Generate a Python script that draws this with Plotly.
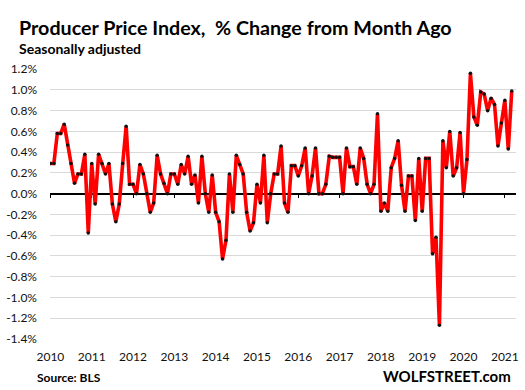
import plotly.graph_objects as go

# ---- data ----
ppi_change = [
    0.29, 0.29, 0.58, 0.58, 0.67, 0.47, 0.29, 0.10, 0.19, 0.19, 0.38, -0.38,
    0.29, -0.10, 0.38, 0.29, 0.19, 0.29, -0.10, -0.27, -0.10, 0.29, 0.65, 0.09,
    0.09, 0.00, 0.28, 0.19, 0.00, -0.18, -0.09, 0.37, 0.19, 0.10,
    0.00, 0.19, 0.19, 0.09, 0.28, 0.19, 0.36, 0.09, 0.18, -0.09, 0.36, 0.00,
    -0.18, 0.18, -0.18, -0.27, -0.63, -0.45, 0.19, -0.18, 0.37, 0.28, 0.19, -0.18,
    -0.36, -0.28, 0.09, -0.09, 0.37, -0.28, 0.00, 0.19, 0.19, 0.46,
    -0.09, -0.18, 0.27, 0.27, 0.17, 0.27, 0.44, 0.00, 0.17, 0.44, 0.00, 0.00,
    0.09, 0.36, 0.35, 0.35, 0.35, 0.00, 0.44, 0.26, 0.26, 0.09, 0.44, 0.34,
    0.09, 0.00, 0.09, 0.77, -0.17, -0.09, -0.17, 0.25, 0.34, 0.51, 0.08,
    -0.17, 0.17, 0.17, -0.26, 0.34, -0.17, 0.34, 0.34, -0.58, -0.42, -1.27, 0.51,
    0.25, 0.60, 0.17, 0.25, 0.59, 0.00, 0.33, 1.16, 0.74, 0.66, 0.98, 0.96,
    0.80, 0.92, 0.86, 0.46, 0.68, 0.90, 0.43, 0.99,
]
start_year = 2010
year_ticks = list(range(2010, 2022))
year_labels = [str(y) for y in year_ticks]
y_ticks = [1.2, 1.0, 0.8, 0.6, 0.4, 0.2, 0.0, -0.2, -0.4, -0.6, -0.8, -1.0, -1.2, -1.4]
y_labels = ["1.2%", "1.0%", "0.8%", "0.6%", "0.4%", "0.2%", "0.0%", "-0.2%", "-0.4%",
            "-0.6%", "-0.8%", "-1.0%", "-1.2%", "-1.4%"]

months = [start_year + i / 12 for i in range(len(ppi_change))]

W, H = 525, 390
L, R, T, B = 46, 6, 69, 51
PW, PH = W - L - R, H - T - B
YMIN, YMAX = -1.402, 1.202
XMIN, XMAX = 2009.99, 2021.27


def px(x):
    return (x - L) / PW


def py(y):
    return (H - B - y) / PH


FONT = "Lato"

fig = go.Figure()
fig.add_trace(go.Scatter(
    x=months, y=ppi_change, mode="lines+markers",
    line=dict(color="#ff0000", width=3.6),
    marker=dict(color="#111111", size=3.5),
    showlegend=False, hoverinfo="skip",
))
fig.add_trace(go.Scatter(
    x=[months[0]], y=[0], xaxis="x2", mode="markers",
    marker=dict(opacity=0), showlegend=False, hoverinfo="skip",
))

fig.update_layout(
    width=W, height=H,
    margin=dict(l=L, r=R, t=T, b=B, pad=0),
    paper_bgcolor="white", plot_bgcolor="white",
    font=dict(family=FONT, color="#1a1a1a"),
    xaxis=dict(
        range=[XMIN, XMAX], tickvals=year_ticks, ticktext=year_labels,
        showgrid=False, zeroline=False, showline=False, ticks="",
        tickfont=dict(size=12, color="#111111"), ticklabelstandoff=9,
    ),
    xaxis2=dict(
        range=[XMIN, XMAX], overlaying="x", anchor="free",
        position=(0 - YMIN) / (YMAX - YMIN), side="bottom",
        tickvals=year_ticks, showticklabels=False,
        showgrid=False, zeroline=False, showline=True, linecolor="black",
        linewidth=1.5, ticks="outside", ticklen=4, tickwidth=1.3,
        tickcolor="black", layer="below traces",
    ),
    yaxis=dict(
        range=[YMIN, YMAX], tickvals=y_ticks, ticktext=y_labels,
        showgrid=True, gridcolor="#d9d9d9", gridwidth=1.2,
        zeroline=False, showline=False, ticks="",
        tickfont=dict(size=12, color="#111111"), ticklabelstandoff=12,
    ),
    annotations=[
        dict(text="<b>Producer Price Index,  % Change from Month Ago</b>",
             x=px(13), y=py(27), xref="paper", yref="paper",
             xanchor="left", yanchor="middle", showarrow=False,
             font=dict(family=FONT, size=19.7, color="black")),
        dict(text="<b>Seasonally adjusted</b>",
             x=px(13), y=py(48), xref="paper", yref="paper",
             xanchor="left", yanchor="middle", showarrow=False,
             font=dict(family=FONT, size=14, color="black")),
        dict(text="<b>Source: BLS</b>",
             x=px(31), y=py(377), xref="paper", yref="paper",
             xanchor="left", yanchor="middle", showarrow=False,
             font=dict(family=FONT, size=12, color="black")),
        dict(text="<b>WOLFSTREET.com</b>",
             x=px(516), y=py(376), xref="paper", yref="paper",
             xanchor="right", yanchor="middle", showarrow=False,
             font=dict(family=FONT, size=15, color="black")),
    ],
)

fig.write_html(
    "out.html",
    config={"displayModeBar": False},
    post_script="document.body.style.margin='0';document.body.style.padding='0';",
)
